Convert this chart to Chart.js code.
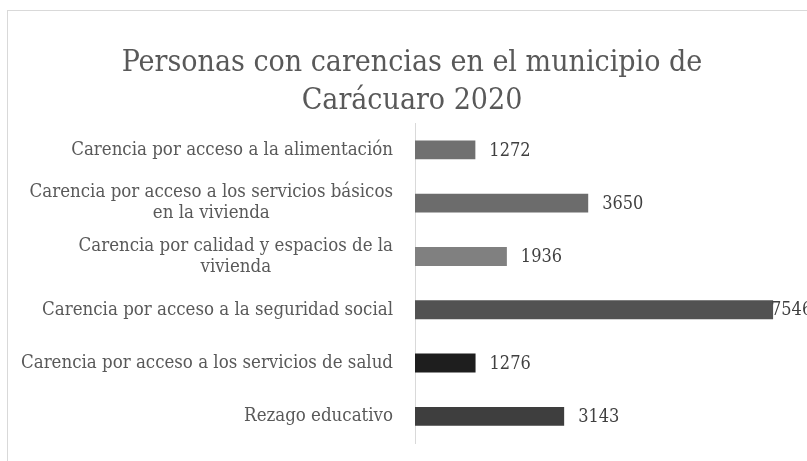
<!DOCTYPE html>
<html>
<head>
<meta charset="utf-8">
<script src="https://cdn.jsdelivr.net/npm/chart.js@4.4.0/dist/chart.umd.min.js"></script>
<style>
  html, body { margin: 0; padding: 0; background: #fff; overflow: hidden; }
  #box { position: absolute; left: 7px; top: 10px; width: 808px; height: 470px; border: 1px solid #d9d9d9; background: #fff; }
</style>
</head>
<body>
<div id="box"><canvas id="carencias" width="808" height="470"></canvas></div>
<script>
const cValues = [
  "Carencia por acceso a la alimentación",
  ["Carencia por acceso a los servicios básicos", "en la vivienda"],
  ["Carencia por calidad y espacios de la", "vivienda"],
  "Carencia por acceso a la seguridad social",
  "Carencia por acceso a los servicios de salud",
  "Rezago educativo",
];
const cData = [1272, 3650, 1936, 7546, 1276, 3143];
const cColors = [
  "#707070",
  "#6c6c6c",
  "#808080",
  "#525252",
  "#1e1e1e",
  "#3e3e3e",
];

const serif = '"DejaVu Serif Condensed", "DejaVu Serif", serif';

// numbers next to the bars
const barLabels = {
  id: 'barLabels',
  afterDatasetsDraw(chart) {
    const ctx = chart.ctx;
    ctx.save();
    ctx.font = '18px ' + serif;
    ctx.fillStyle = '#404040';
    ctx.textBaseline = 'middle';
    chart.getDatasetMeta(0).data.forEach((bar, i) => {
      let x = Math.min(bar.x + 14, chart.width - 45);
      ctx.fillText(cData[i], x, bar.y + 1);
    });
    ctx.restore();
  }
};

// category labels, wrapped lines centred on each other like the original
const catLabels = {
  id: 'catLabels',
  afterDraw(chart) {
    const ctx = chart.ctx;
    const yScale = chart.scales.y;
    const lh = 21;
    ctx.save();
    ctx.font = '18.5px ' + serif;
    ctx.fillStyle = '#595959';
    ctx.textBaseline = 'middle';
    ctx.textAlign = 'center';
    const right = yScale.right - 22;
    cValues.forEach((lbl, i) => {
      const lines = Array.isArray(lbl) ? lbl : [lbl];
      const w = Math.max(...lines.map(l => ctx.measureText(l).width));
      const yc = yScale.getPixelForTick(i);
      let y = yc - (lines.length - 1) * lh / 2;
      lines.forEach(l => {
        ctx.fillText(l, right - w / 2, y);
        y += lh;
      });
    });
    ctx.restore();
  }
};

let ctx = document.getElementById('carencias').getContext('2d');

let carenciasChart = new Chart(ctx, {
  type: "bar",
  data: {
    labels: cValues,
    datasets: [{
      backgroundColor: cColors,
      data: cData,
      barPercentage: 0.355,
      categoryPercentage: 1,
    }]
  },
  options: {
    indexAxis: 'y',
    responsive: false,
    animation: false,
    layout: {
      padding: { top: 26, right: 0, bottom: 38, left: 0 }
    },
    plugins: {
      legend: { display: false },
      tooltip: { enabled: false },
      title: {
        display: true,
        text: ["Personas con carencias en el municipio de", "Carácuaro 2020"],
        color: '#595959',
        font: { family: serif, size: 30, weight: 'normal', lineHeight: 1.27 },
        padding: { top: 7, bottom: 3 },
      },
    },
    scales: {
      x: {
        display: false,
        min: 0,
        max: 8450,
      },
      y: {
        grid: { display: false, drawTicks: false },
        border: { display: true, color: '#d9d9d9', width: 1 },
        ticks: { display: false },
        afterFit(scale) { scale.width = 407; },
      }
    }
  },
  plugins: [barLabels, catLabels]
});
</script>
</body>
</html>
